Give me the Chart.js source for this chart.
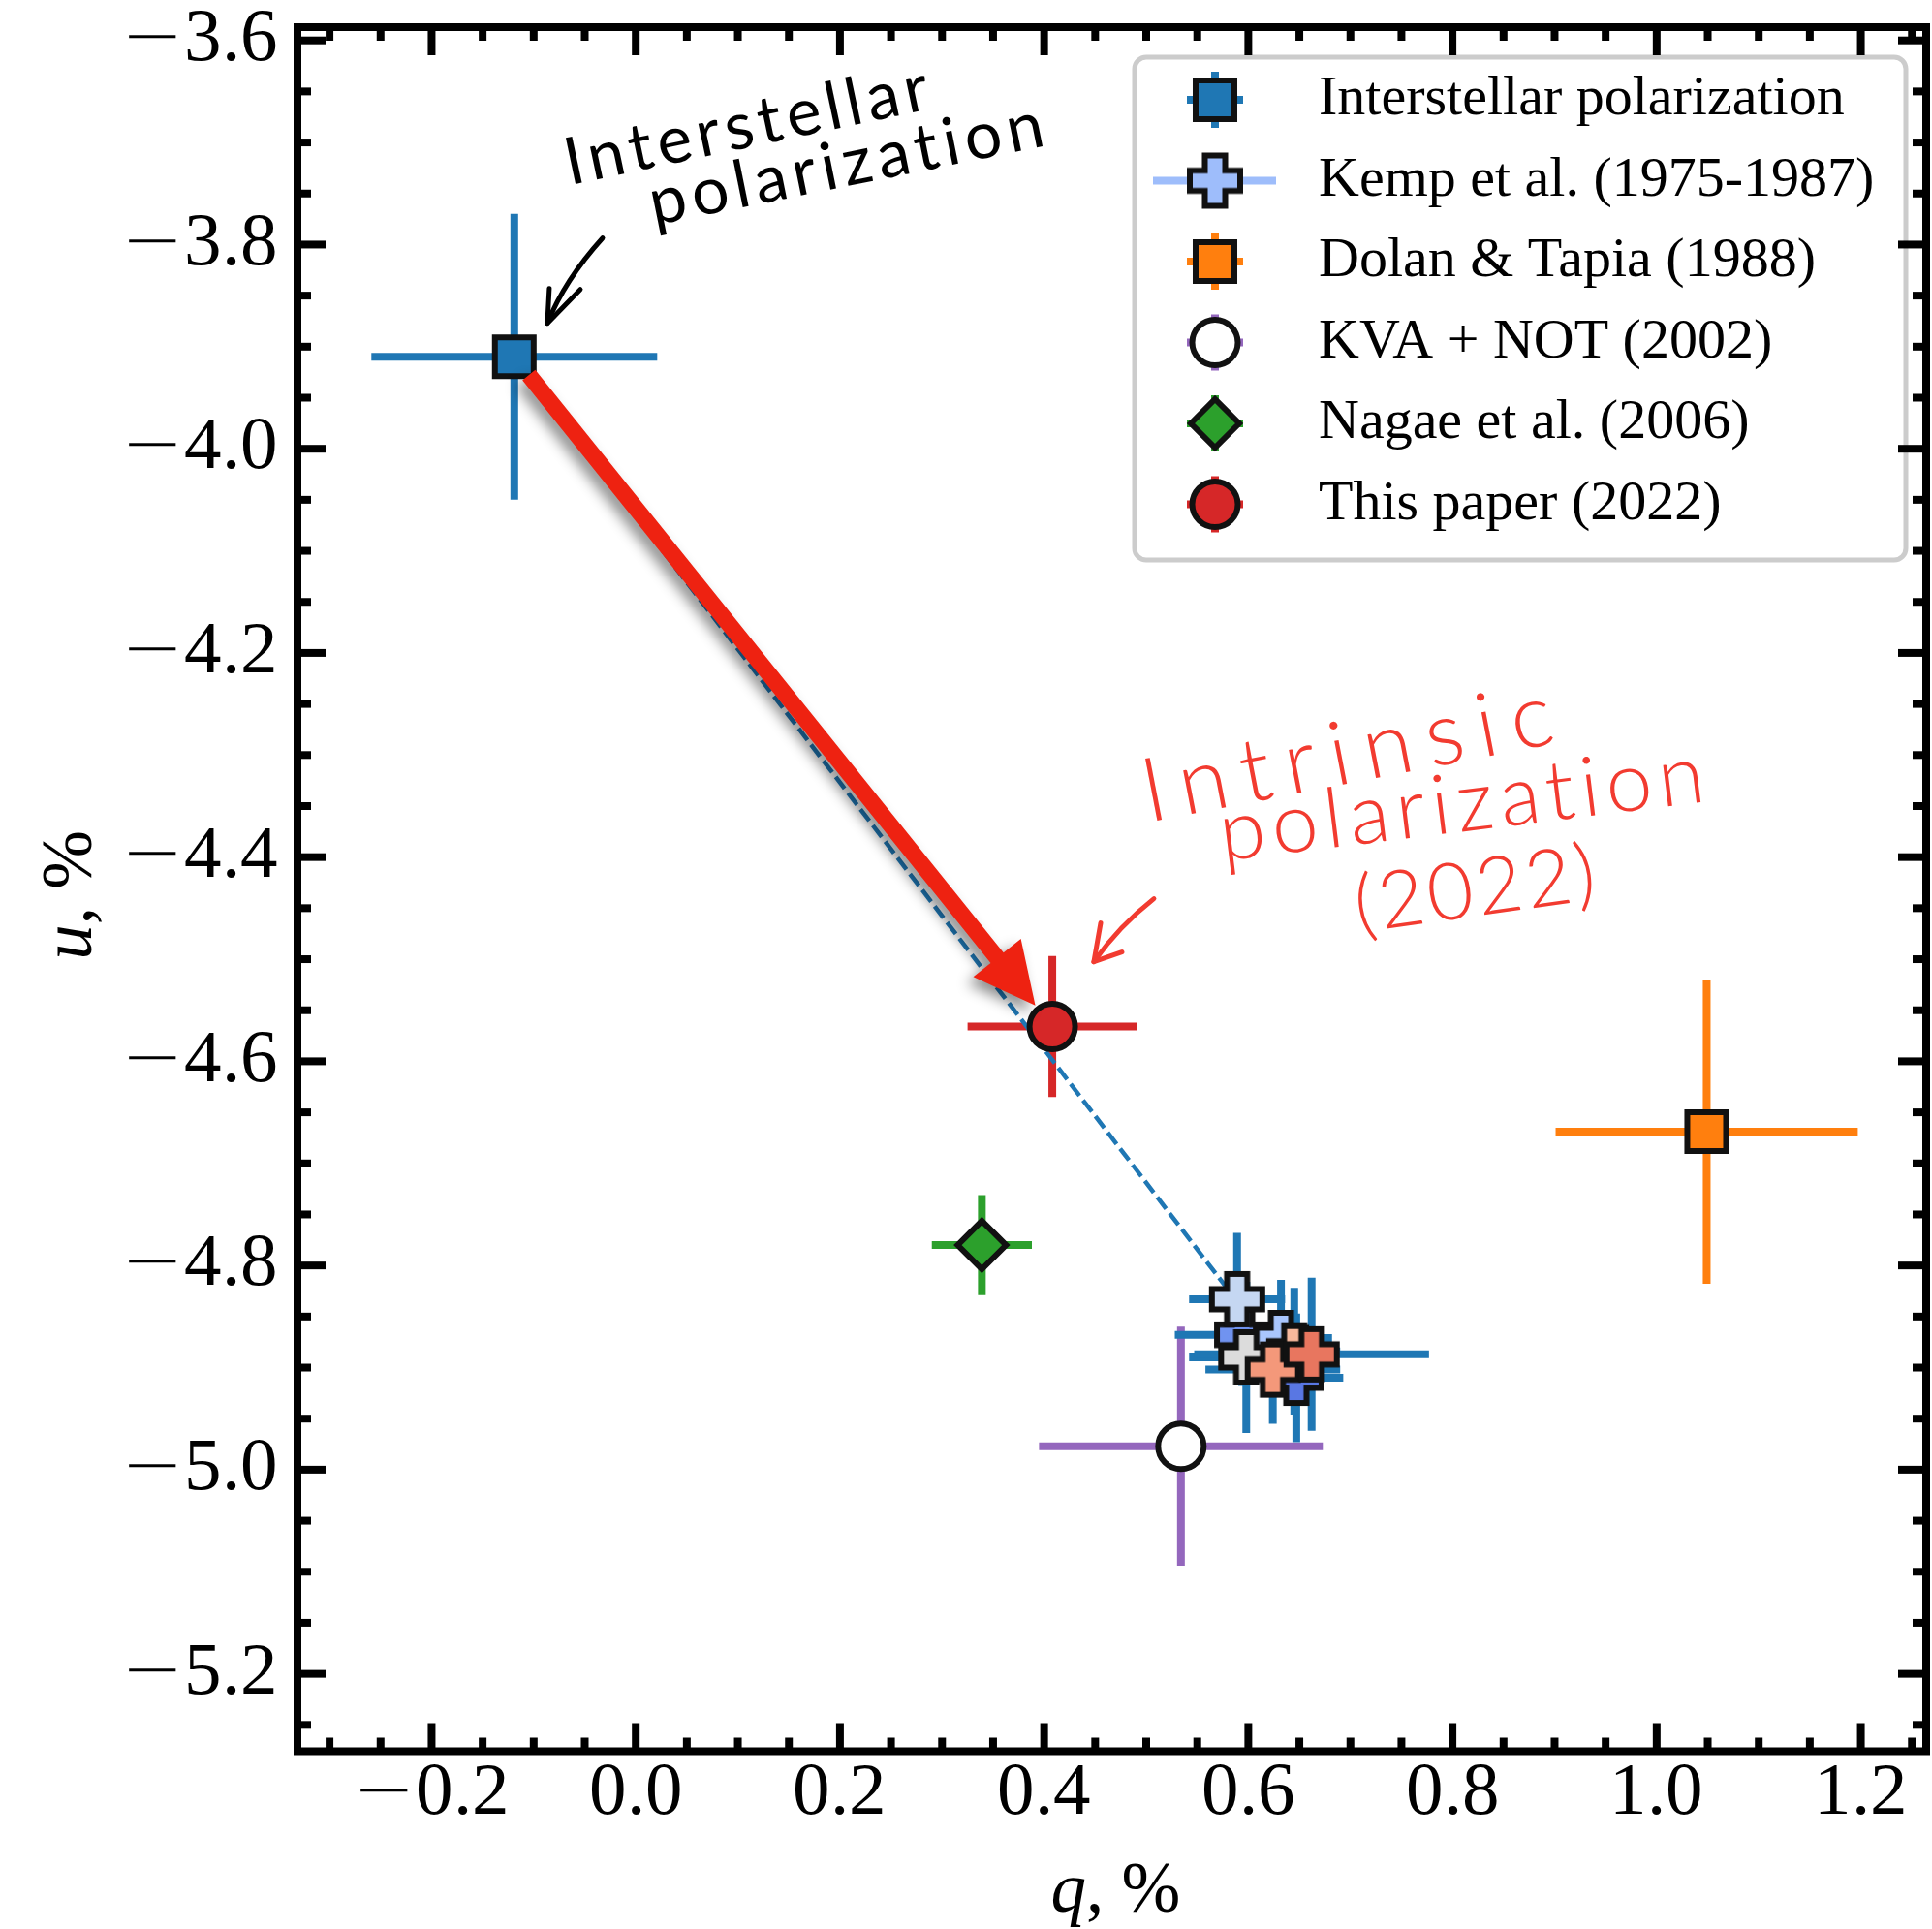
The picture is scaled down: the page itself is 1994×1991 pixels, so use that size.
<!DOCTYPE html>
<html>
<head>
<meta charset="utf-8">
<script src="https://cdn.jsdelivr.net/npm/chart.js@4.4.1/dist/chart.umd.min.js"></script>
<style>
  html, body { margin: 0; padding: 0; background: #fff; }
  canvas { display: block; }
  /* Times-like digits with a long, thin math minus */
  @font-face { font-family: 'TickSerif'; src: local('Liberation Serif'), local('LiberationSerif'); }
  @font-face { font-family: 'TickSerif'; src: local('DejaVu Sans ExtraLight'), local('DejaVuSans-ExtraLight'); unicode-range: U+2212; }
</style>
</head>
<body>
<canvas id="qu" width="1994" height="1991"></canvas>
<script>
// Stokes q, u in per cent, with 1-sigma errors
const qTicks = [-0.2, 0.0, 0.2, 0.4, 0.6, 0.8, 1.0, 1.2];
const uTicks = [-3.6, -3.8, -4.0, -4.2, -4.4, -4.6, -4.8, -5.0, -5.2];

const isQ = [-0.119], isU = [-3.910], isQerr = [0.140], isUerr = [0.140];

// Kemp et al., one point per season, coloured by epoch
const kempQ = [0.647, 0.594, 0.632, 0.589, 0.598, 0.645, 0.624, 0.662];
const kempU = [-4.910, -4.868, -4.871, -4.833, -4.890, -4.884, -4.902, -4.887];
const kempQerr = [0.046, 0.066, 0.050, 0.047, 0.056, 0.045, 0.066, 0.115];
const kempUerr = [0.063, 0.050, 0.057, 0.065, 0.074, 0.062, 0.053, 0.075];
const kempColors = ['#5977e3', '#7093f0', '#a9c6fd', '#c5d7f2', '#dcdcdc', '#f7b89c', '#f4987a', '#e8765f'];

const dtQ = [1.049], dtU = [-4.669], dtQerr = [0.148], dtUerr = [0.149];
const kvaQ = [0.534], kvaU = [-4.977], kvaQerr = [0.139], kvaUerr = [0.117];
const ngQ = [0.339], ngU = [-4.780], ngQerr = [0.049], ngUerr = [0.049];
const tpQ = [0.408], tpU = [-4.566], tpQerr = [0.083], tpUerr = [0.069];

// dashed track: interstellar estimate -> mean of the Kemp points
const trackQ = [-0.119, 0.624], trackU = [-3.910, -4.881];

// hand-written notes (anchors in data units)
const notes = [
  { text: 'Interstellar', q: -0.0647, u: -3.742, rot: -12, width: 382, size: 68, weight: 400, color: '#000' },
  { text: 'polarization', q: 0.0178, u: -3.7813, rot: -11.5, width: 415, size: 68, weight: 400, color: '#000' },
  { text: 'Intrinsic', q: 0.5019, u: -4.3659, rot: -11, width: 430, size: 92, weight: 300, color: '#f23b30' },
  { text: 'polarization', q: 0.5750, u: -4.4038, rot: -7, width: 505, size: 86, weight: 300, color: '#f23b30' },
  { text: '(2022)', q: 0.7079, u: -4.4740, rot: -8, width: 250, size: 82, weight: 300, color: '#f23b30' }
];
const scribbleArrows = [
  { color: '#000', from: [-0.0325, -3.7936], via: [-0.0695, -3.8344], tip: [-0.0866, -3.8771],
    barbs: [[-0.0847, -3.8429], [-0.0543, -3.8439]] },
  { color: '#f23b30', from: [0.5075, -4.4408], via: [0.4735, -4.4674], tip: [0.4487, -4.5025],
    barbs: [[0.4554, -4.4645], [0.4762, -4.4930]] }
];

const SERIF = '"Liberation Serif", "DejaVu Serif", serif';
const TICKSERIF = 'TickSerif, "Liberation Serif", serif';

function plusMarker(fill) {
  const c = document.createElement('canvas');
  c.width = c.height = 64;
  const g = c.getContext('2d');
  const L = 26, W = 10.5, m = 32;
  g.beginPath();
  g.moveTo(m - W, m - L); g.lineTo(m + W, m - L); g.lineTo(m + W, m - W);
  g.lineTo(m + L, m - W); g.lineTo(m + L, m + W); g.lineTo(m + W, m + W);
  g.lineTo(m + W, m + L); g.lineTo(m - W, m + L); g.lineTo(m - W, m + W);
  g.lineTo(m - L, m + W); g.lineTo(m - L, m - W); g.lineTo(m - W, m - W);
  g.closePath();
  g.fillStyle = fill; g.fill();
  g.lineWidth = 6; g.lineJoin = 'miter'; g.strokeStyle = '#111'; g.stroke();
  return c;
}

const pts = (q, u) => q.map((v, i) => ({ x: v, y: u[i] }));

function series(label, q, u, qe, ue, style) {
  return Object.assign({
    label, data: pts(q, u), errQ: qe, errU: ue,
    pointBorderColor: '#111', pointBorderWidth: 6, showLine: false
  }, style);
}

const datasets = [
  series('Interstellar polarization', isQ, isU, isQerr, isUerr,
    { pointStyle: 'rect', pointRadius: 28.3, pointBackgroundColor: '#1f77b4', errColor: '#1f77b4' }),
  series('Kemp et al. (1975-1987)', kempQ, kempU, kempQerr, kempUerr,
    { pointStyle: kempColors.map(plusMarker), pointRadius: 29, pointBackgroundColor: kempColors,
      errColor: '#1f77b4', legendColor: '#9ebdfb', legendLine: true }),
  series('Dolan & Tapia (1988)', dtQ, dtU, dtQerr, dtUerr,
    { pointStyle: 'rect', pointRadius: 28.3, pointBackgroundColor: '#ff7f0e', errColor: '#ff7f0e' }),
  series('KVA + NOT (2002)', kvaQ, kvaU, kvaQerr, kvaUerr,
    { pointStyle: 'circle', pointRadius: 23.5, pointBackgroundColor: '#ffffff', errColor: '#9467bd' }),
  series('Nagae et al. (2006)', ngQ, ngU, ngQerr, ngUerr,
    { pointStyle: 'rectRot', pointRadius: 25, pointBackgroundColor: '#2ca02c', errColor: '#2ca02c' }),
  series('This paper (2022)', tpQ, tpU, tpQerr, tpUerr,
    { pointStyle: 'circle', pointRadius: 23.5, pointBackgroundColor: '#d62728', errColor: '#d62728' }),
  { data: pts(trackQ, trackU), showLine: true, borderColor: '#1f77b4', borderWidth: 4.5,
    borderDash: [15, 6], pointRadius: 0, order: 1 }
];

const fmt = v => (v < -1e-9 ? '\u2212' : '') + Math.abs(v).toFixed(1);

// error bars go underneath every marker
const errorBars = {
  id: 'errorBars',
  beforeDatasetsDraw(chart) {
    const { ctx, scales: { x, y } } = chart;
    ctx.save();
    ctx.lineWidth = 8;
    ctx.lineCap = 'butt';
    for (let d = chart.data.datasets.length - 1; d >= 0; d--) {
      const ds = chart.data.datasets[d];
      if (!ds.errQ) continue;
      ctx.strokeStyle = ds.errColor;
      ds.data.forEach((p, i) => {
        const px = x.getPixelForValue(p.x), py = y.getPixelForValue(p.y);
        ctx.beginPath();
        ctx.moveTo(x.getPixelForValue(p.x - ds.errQ[i]), py);
        ctx.lineTo(x.getPixelForValue(p.x + ds.errQ[i]), py);
        ctx.moveTo(px, y.getPixelForValue(p.y - ds.errU[i]));
        ctx.lineTo(px, y.getPixelForValue(p.y + ds.errU[i]));
        ctx.stroke();
      });
    }
    ctx.restore();
  }
};

function drawFatArrow(chart) {
  const { ctx, scales: { x, y } } = chart;
  const x0 = x.getPixelForValue(isQ[0]), y0 = y.getPixelForValue(isU[0]);
  const x1 = x.getPixelForValue(tpQ[0]), y1 = y.getPixelForValue(tpU[0]);
  const d = Math.hypot(x1 - x0, y1 - y0);
  const ux = (x1 - x0) / d, uy = (y1 - y0) / d, nx = -uy, ny = ux;
  const sx = x0 + ux * 24, sy = y0 + uy * 24;
  const tx = x1 - ux * 28, ty = y1 - uy * 28;
  const headL = 63, headW = 31.5, sw = 8.5;
  const bx = tx - ux * headL, by = ty - uy * headL;
  ctx.save();
  ctx.shadowColor = 'rgba(0,0,0,0.45)';
  ctx.shadowBlur = 14;
  ctx.shadowOffsetX = -6;
  ctx.shadowOffsetY = 7;
  ctx.fillStyle = '#ee2211';
  ctx.beginPath();
  ctx.moveTo(sx + nx * sw, sy + ny * sw);
  ctx.lineTo(bx + nx * sw, by + ny * sw);
  ctx.lineTo(bx + nx * headW, by + ny * headW);
  ctx.lineTo(tx, ty);
  ctx.lineTo(bx - nx * headW, by - ny * headW);
  ctx.lineTo(bx - nx * sw, by - ny * sw);
  ctx.lineTo(sx - nx * sw, sy - ny * sw);
  ctx.closePath();
  ctx.fill();
  ctx.restore();
}

function drawNotes(chart) {
  const { ctx, scales: { x, y } } = chart;
  const P = a => [x.getPixelForValue(a[0]), y.getPixelForValue(a[1])];
  notes.forEach(n => {
    ctx.save();
    ctx.translate(x.getPixelForValue(n.q), y.getPixelForValue(n.u));
    ctx.rotate(n.rot * Math.PI / 180);
    ctx.font = n.weight + ' ' + n.size + 'px Lato, "Open Sans", sans-serif';
    ctx.fillStyle = n.color;
    ctx.textBaseline = 'alphabetic';
    ctx.textAlign = 'left';
    const w0 = ctx.measureText(n.text).width;
    const gap = (n.width - w0) / (n.text.length - 1);
    if ('letterSpacing' in ctx) {
      ctx.letterSpacing = gap + 'px';
      ctx.fillText(n.text, 0, 0);
    } else {
      let cx = 0;
      for (const ch of n.text) { ctx.fillText(ch, cx, 0); cx += ctx.measureText(ch).width + gap; }
    }
    ctx.restore();
  });
  scribbleArrows.forEach(a => {
    const s = P(a.from), c = P(a.via), t = P(a.tip), b1 = P(a.barbs[0]), b2 = P(a.barbs[1]);
    ctx.save();
    ctx.strokeStyle = a.color;
    ctx.lineWidth = 5;
    ctx.lineCap = 'round';
    ctx.lineJoin = 'round';
    ctx.beginPath();
    ctx.moveTo(s[0], s[1]);
    ctx.quadraticCurveTo(c[0], c[1], t[0], t[1]);
    ctx.stroke();
    ctx.beginPath();
    ctx.moveTo(b1[0], b1[1]);
    ctx.lineTo(t[0], t[1]);
    ctx.lineTo(b2[0], b2[1]);
    ctx.stroke();
    ctx.restore();
  });
}

function roundRect(ctx, l, t, r, b, rad) {
  ctx.beginPath();
  ctx.moveTo(l + rad, t);
  ctx.lineTo(r - rad, t); ctx.arcTo(r, t, r, t + rad, rad);
  ctx.lineTo(r, b - rad); ctx.arcTo(r, b, r - rad, b, rad);
  ctx.lineTo(l + rad, b); ctx.arcTo(l, b, l, b - rad, rad);
  ctx.lineTo(l, t + rad); ctx.arcTo(l, t, l + rad, t, rad);
  ctx.closePath();
}

function drawLegend(chart) {
  const { ctx } = chart;
  const box = { l: 1171, t: 59, r: 1967, b: 578 };
  ctx.save();
  roundRect(ctx, box.l, box.t, box.r, box.b, 12);
  ctx.fillStyle = 'rgba(255,255,255,0.9)';
  ctx.fill();
  ctx.lineWidth = 5;
  ctx.strokeStyle = '#cccccc';
  ctx.stroke();
  const mx = 1254, tx = 1361;
  let row = 0;
  chart.data.datasets.forEach(ds => {
    if (!ds.label) return;
    const cy = 103 + row * 83.5;
    row++;
    ctx.lineCap = 'butt';
    ctx.lineWidth = 8;
    ctx.beginPath();
    if (ds.legendLine) {
      ctx.strokeStyle = ds.legendColor;
      ctx.moveTo(mx - 64, cy); ctx.lineTo(mx + 63, cy);
    } else {
      ctx.strokeStyle = ds.errColor;
      ctx.moveTo(mx - 29, cy); ctx.lineTo(mx + 29, cy);
      ctx.moveTo(mx, cy - 29); ctx.lineTo(mx, cy + 29);
    }
    ctx.stroke();
    const face = ds.legendColor || ds.pointBackgroundColor;
    const style = ds.legendLine ? plusMarker(face) : ds.pointStyle;
    ctx.fillStyle = face;
    ctx.strokeStyle = '#111';
    ctx.lineWidth = 6;
    ctx.lineJoin = 'miter';
    Chart.helpers.drawPoint(ctx, { pointStyle: style, radius: ds.pointRadius, borderWidth: 6, rotation: 0 }, mx, cy);
    ctx.fillStyle = '#000';
    ctx.font = '58px ' + SERIF;
    ctx.textBaseline = 'middle';
    ctx.textAlign = 'left';
    ctx.fillText(ds.label, tx, cy);
  });
  ctx.restore();
}

function drawFrame(chart) {
  const { ctx, chartArea: a, scales: { x, y } } = chart;
  ctx.save();
  ctx.strokeStyle = '#000';
  ctx.lineWidth = 8;
  ctx.lineCap = 'butt';
  const seg = (x0, y0, x1, y1) => { ctx.beginPath(); ctx.moveTo(x0, y0); ctx.lineTo(x1, y1); ctx.stroke(); };
  // inward ticks on all four sides, minor every 0.05
  for (let k = Math.ceil(x.min * 20); k <= Math.floor(x.max * 20); k++) {
    const px = x.getPixelForValue(k / 20), len = k % 4 === 0 ? 29 : 14;
    seg(px, a.bottom, px, a.bottom - len);
    seg(px, a.top, px, a.top + len);
  }
  for (let k = Math.ceil(y.min * 20); k <= Math.floor(y.max * 20); k++) {
    const py = y.getPixelForValue(k / 20), len = k % 4 === 0 ? 29 : 14;
    seg(a.left, py, a.left + len, py);
    seg(a.right, py, a.right - len, py);
  }
  ctx.strokeRect(a.left, a.top, a.right - a.left, a.bottom - a.top);

  // axis titles: italic symbol + upright ", %"
  const title = (sym, cx, cy, rot) => {
    ctx.save();
    ctx.translate(cx, cy);
    ctx.rotate(rot);
    ctx.fillStyle = '#000';
    ctx.textBaseline = 'alphabetic';
    ctx.textAlign = 'left';
    ctx.font = 'italic 73px ' + SERIF;
    const w1 = ctx.measureText(sym).width;
    ctx.font = '73px ' + SERIF;
    const w2 = ctx.measureText(', %').width;
    const sx = -(w1 + w2) / 2;
    ctx.font = 'italic 73px ' + SERIF;
    ctx.fillText(sym, sx, 0);
    ctx.font = '73px ' + SERIF;
    ctx.fillText(', %', sx + w1, 0);
    ctx.restore();
  };
  title('q', (a.left + a.right) / 2 + 4, 1973, 0);
  title('u', 94, (a.top + a.bottom) / 2 + 6, -Math.PI / 2);
  ctx.restore();
}

const decor = {
  id: 'decor',
  afterDatasetsDraw(chart) { drawFatArrow(chart); },
  afterDraw(chart) {
    drawNotes(chart);
    drawLegend(chart);
    drawFrame(chart);
  }
};

// the plot box is fixed; tick labels may hang over its ends
const noOverhang = s => { s.paddingLeft = s.paddingRight = s.paddingTop = s.paddingBottom = 0; };
const tickFont = { family: TICKSERIF, size: 77, lineHeight: 1 };

function build() {
  new Chart(document.getElementById('qu'), {
    type: 'scatter',
    data: { datasets },
    options: {
      responsive: false,
      devicePixelRatio: 1,
      animation: false,
      events: [],
      layout: { autoPadding: false, padding: { left: 0, top: 28, right: 6, bottom: 0 } },
      plugins: { legend: { display: false }, tooltip: { enabled: false } },
      scales: {
        x: {
          type: 'linear', position: 'bottom', min: -0.3314, max: 1.264,
          grid: { display: false, drawTicks: false }, border: { display: false },
          ticks: { padding: 6, color: '#000', font: tickFont, maxRotation: 0, autoSkip: false, callback: fmt },
          afterBuildTicks: s => { s.ticks = qTicks.map(v => ({ value: v })); },
          afterFit: s => { s.height = 183.5; noOverhang(s); }
        },
        y: {
          type: 'linear', position: 'left', min: -5.2758, max: -3.587,
          grid: { display: false, drawTicks: false }, border: { display: false },
          ticks: { padding: 20, color: '#000', font: tickFont, autoSkip: false, callback: fmt },
          afterBuildTicks: s => { s.ticks = uTicks.map(v => ({ value: v })); },
          afterFit: s => { s.width = 307; noOverhang(s); }
        }
      }
    },
    plugins: [errorBars, decor]
  });
}

Promise.all([
  document.fonts.load('77px TickSerif', '\u22120.2'),
  document.fonts.load('300 90px Lato', 'Intrinsic'),
  document.fonts.load('68px Lato', 'Interstellar')
]).catch(() => null).then(build);
</script>
</body>
</html>
